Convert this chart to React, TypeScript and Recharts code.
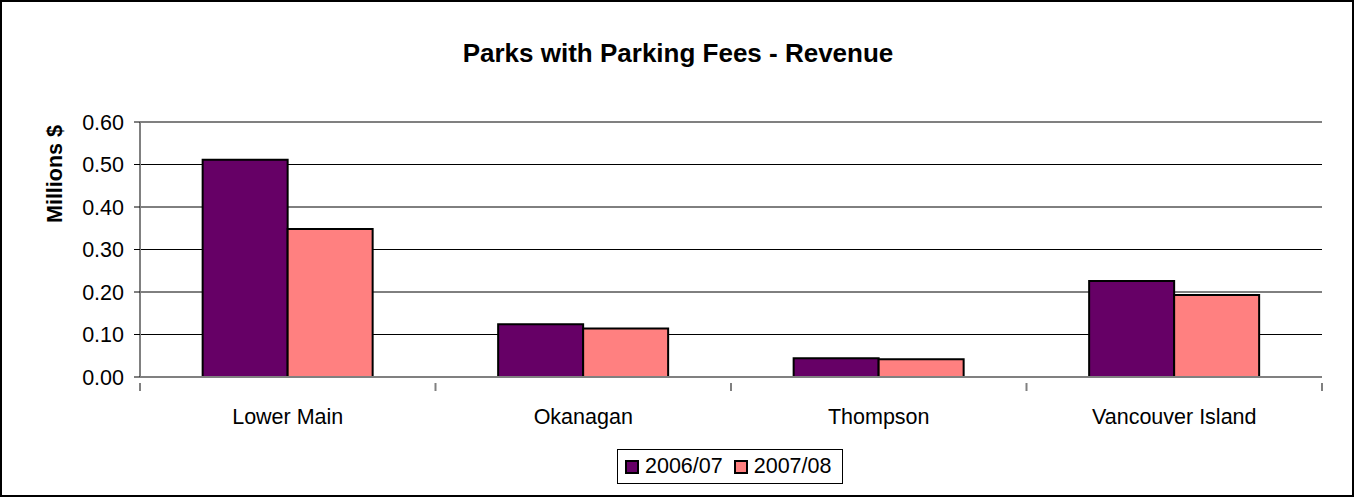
import { Bar, BarChart, CartesianGrid, Legend, ReferenceLine, XAxis, YAxis } from "recharts";

const categories = ["Lower Main", "Okanagan", "Thompson", "Vancouver Island"];
const fy0607 = [0.511, 0.124, 0.044, 0.226];
const fy0708 = [0.348, 0.114, 0.042, 0.193];
const yTicks = [0, 0.1, 0.2, 0.3, 0.4, 0.5, 0.6];
const seriesNames = ["2006/07", "2007/08"];
const colors = ["#660066", "#FF8080"];

const rows = categories.map((name, i) => ({ name, a: fy0607[i], b: fy0708[i] }));

const FONT = "'Liberation Sans', Arial, sans-serif";

function CategoryTick(props: any) {
  const { x, y, payload, index, visibleTicksCount } = props;
  const half = payload?.offset ?? 147.75;
  const last = index === visibleTicksCount - 1;
  return (
    <g>
      <line x1={x - half} x2={x - half} y1={y - 2} y2={y + 6} stroke="#808080" strokeWidth={2} />
      {last && (
        <line x1={x + half} x2={x + half} y1={y - 2} y2={y + 6} stroke="#808080" strokeWidth={2} />
      )}
      <text x={x} y={y + 39} textAnchor="middle" fontSize={21.5} fontFamily={FONT} fill="#000">
        {payload.value}
      </text>
    </g>
  );
}

function YLabel(props: any) {
  const vb = props.viewBox || { x: 0, y: 122 };
  const cx = vb.x + 55;
  const cy = 174;
  return (
    <text
      x={cx}
      y={cy}
      transform={`rotate(-90 ${cx} ${cy})`}
      textAnchor="middle"
      dominantBaseline="central"
      fontSize={21.5}
      fontWeight="bold"
      fontFamily={FONT}
      fill="#000"
    >
      Millions $
    </text>
  );
}

function LegendBox() {
  return (
    <div
      style={{
        boxSizing: "border-box",
        height: 35,
        border: "1px solid #000",
        background: "#fff",
        display: "flex",
        alignItems: "center",
        paddingLeft: 7,
        fontFamily: FONT,
        fontSize: 21.5,
        color: "#000",
      }}
    >
      {seriesNames.map((s, i) => (
        <div key={s} style={{ display: "flex", alignItems: "center", marginRight: 11 }}>
          <span
            style={{
              boxSizing: "border-box",
              width: 14,
              height: 14,
              background: colors[i],
              border: "2px solid #000",
              marginRight: 6,
            }}
          />
          <span>{s}</span>
        </div>
      ))}
    </div>
  );
}

export default function App() {
  return (
    <div style={{ position: "absolute", left: 0, top: 0, width: 1356, height: 498, background: "#fff" }}>
      <div
        style={{
          position: "absolute",
          left: 0,
          top: 0,
          width: 1354,
          height: 497,
          boxSizing: "border-box",
          border: "2px solid #000",
          pointerEvents: "none",
          zIndex: 2,
        }}
      />
      <div
        style={{
          position: "absolute",
          left: 0,
          top: 40,
          width: 1356,
          textAlign: "center",
          fontFamily: FONT,
          fontWeight: "bold",
          fontSize: 26,
          lineHeight: "26px",
          zIndex: 1,
        }}
      >
        Parks with Parking Fees - Revenue
      </div>
      <BarChart
        width={1356}
        height={498}
        data={rows}
        margin={{ top: 122, right: 34, left: 0, bottom: 14 }}
        barCategoryGap="21.2%"
        barGap={0}
      >
        <CartesianGrid vertical={false} stroke="#000" strokeWidth={1} />
        <XAxis
          dataKey="name"
          height={72}
          interval={0}
          tickLine={false}
          axisLine={{ stroke: "#808080", strokeWidth: 2 }}
          tick={<CategoryTick />}
        />
        <YAxis
          width={140}
          domain={[0, 0.6]}
          ticks={yTicks}
          interval={0}
          tickFormatter={(v: number) => v.toFixed(2)}
          tickSize={6}
          tickMargin={10}
          axisLine={{ stroke: "#808080", strokeWidth: 2 }}
          tickLine={{ stroke: "#000" }}
          tick={{ fill: "#000", fontSize: 21.5, fontFamily: FONT }}
          label={<YLabel />}
        />
        <YAxis
          yAxisId="r"
          orientation="right"
          width={0}
          domain={[0, 0.6]}
          tick={false}
          tickLine={false}
          axisLine={{ stroke: "#808080", strokeWidth: 2 }}
        />
        <ReferenceLine y={0.6} stroke="#808080" strokeWidth={2} />
        <Bar dataKey="a" name={seriesNames[0]} fill={colors[0]} stroke="#000" strokeWidth={2} isAnimationActive={false} />
        <Bar dataKey="b" name={seriesNames[1]} fill={colors[1]} stroke="#000" strokeWidth={2} isAnimationActive={false} />
        <Legend
          verticalAlign="bottom"
          content={<LegendBox />}
          wrapperStyle={{ left: 617, top: 449, width: 226, height: 35 }}
        />
      </BarChart>
    </div>
  );
}
